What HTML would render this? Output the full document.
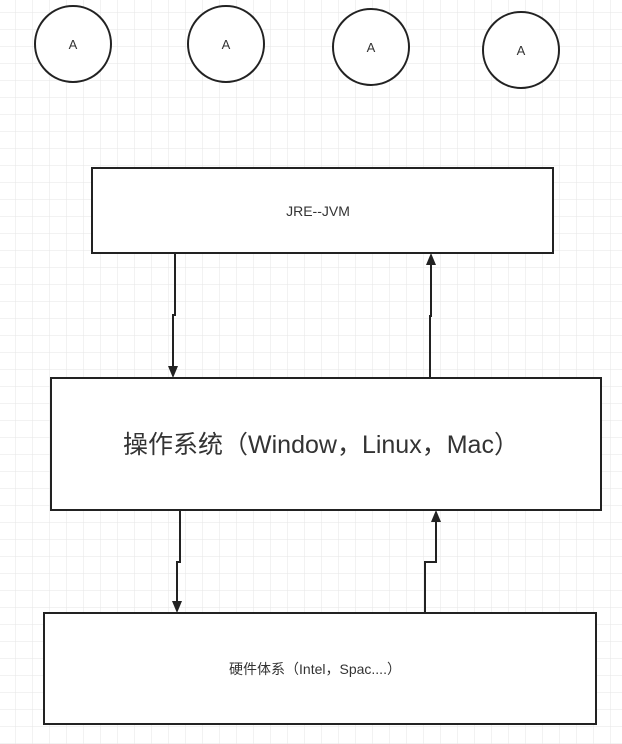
<!DOCTYPE html>
<html><head><meta charset="utf-8"><style>
html,body{margin:0;padding:0;background:#fff}
body{width:622px;height:744px;overflow:hidden}
</style></head><body>
<svg width="622" height="744" xmlns="http://www.w3.org/2000/svg" style="display:block">
<defs>
<pattern id="g" width="17" height="17" patternUnits="userSpaceOnUse" x="-1" y="-4">
<path d="M17 0V17M0 17H17" fill="none" stroke="#e6e6e6" stroke-width="1"/>
</pattern>
</defs>
<rect width="622" height="744" fill="url(#g)"/>
<g fill="#fff" stroke="#222" stroke-width="2">
<circle cx="73" cy="44" r="38"/>
<circle cx="226" cy="44" r="38"/>
<circle cx="371" cy="47" r="38"/>
<circle cx="521" cy="50" r="38"/>
<rect x="92" y="168" width="461" height="85"/>
<rect x="51" y="378" width="550" height="132"/>
<rect x="44" y="613" width="552" height="111"/>
</g>
<g font-family="Liberation Sans, Noto Sans CJK SC, sans-serif" fill="#333" text-anchor="middle">
<text x="73" y="49" font-size="13">A</text>
<text x="226" y="49" font-size="13">A</text>
<text x="371" y="52" font-size="13">A</text>
<text x="521" y="55" font-size="13">A</text>
<text x="318" y="216" font-size="14">JRE--JVM</text>
<text x="321" y="453" font-size="25">操作系统（Window，Linux，Mac）</text>
<text x="315" y="674" font-size="14">硬件体系（Intel，Spac....）</text>
</g>
<g fill="none" stroke="#222" stroke-width="2">
<path d="M175 253V315H173V368"/>
<path d="M430 378V316H431V264"/>
<path d="M180 510V562H177V603"/>
<path d="M425 613V562H436V522"/>
</g>
<g fill="#222">
<path d="M168 366L178 366L173 378Z"/>
<path d="M426 265L436 265L431 253Z"/>
<path d="M172 601L182 601L177 613Z"/>
<path d="M431 522L441 522L436 510Z"/>
</g>
</svg>
</body></html>
